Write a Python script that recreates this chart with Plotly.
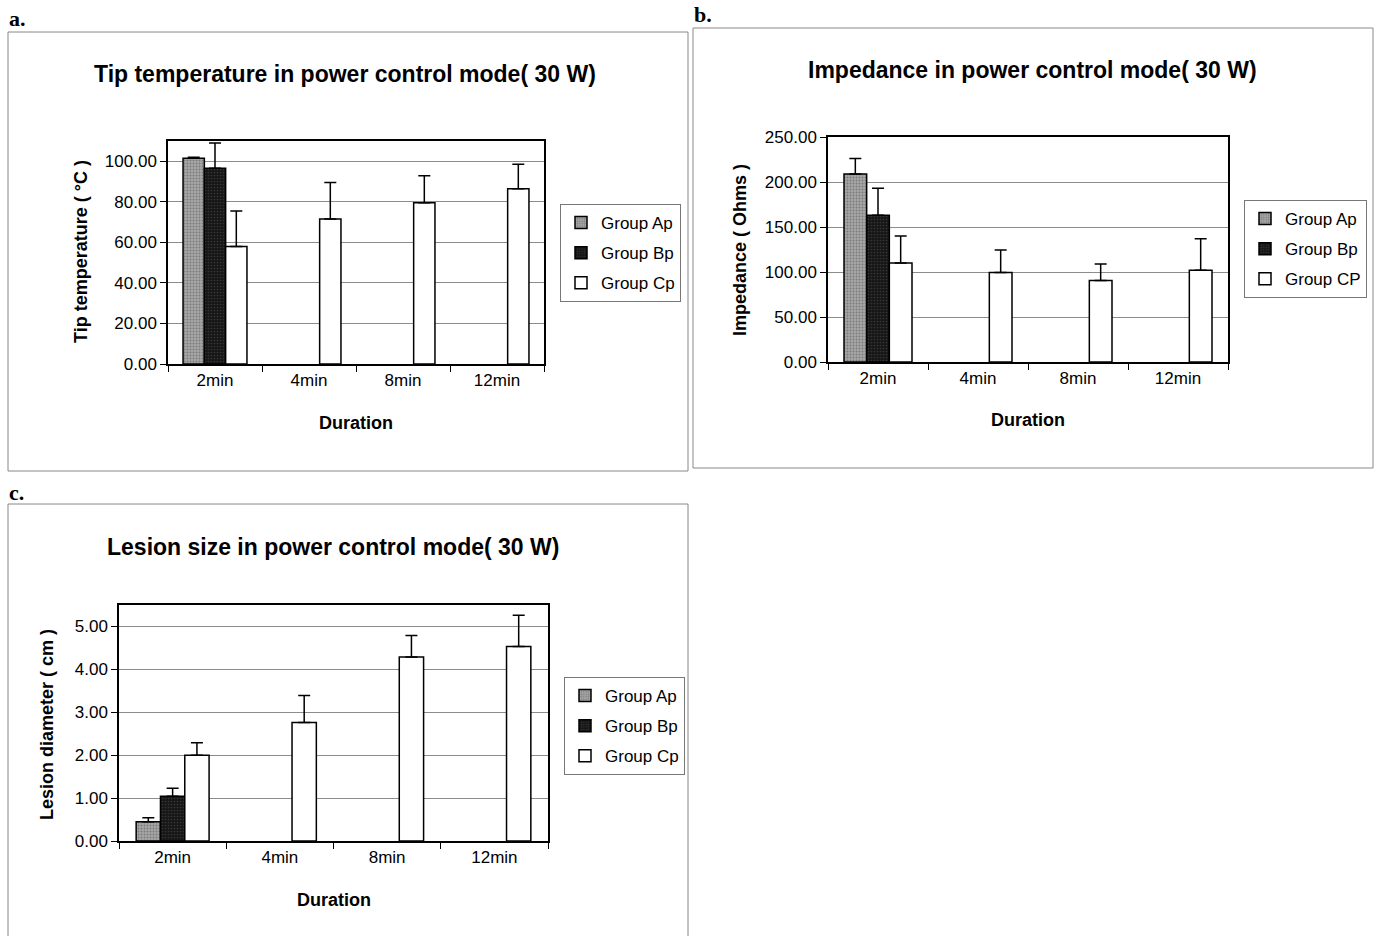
import plotly.graph_objects as go

categories = ["2min", "4min", "8min", "12min"]
groups_a = ["Group Ap", "Group Bp", "Group Cp"]
groups_b = ["Group Ap", "Group Bp", "Group CP"]

# Panel a: tip temperature (°C)
temp_ap = [101.5, None, None, None]
temp_ap_err = [0.5, 0, 0, 0]
temp_bp = [96.5, None, None, None]
temp_bp_err = [12.5, 0, 0, 0]
temp_cp = [58.0, 71.5, 79.5, 86.5]
temp_cp_err = [17.5, 18.0, 13.3, 12.0]

# Panel b: impedance (Ohms)
imp_ap = [209.0, None, None, None]
imp_ap_err = [17.0, 0, 0, 0]
imp_bp = [163.0, None, None, None]
imp_bp_err = [30.0, 0, 0, 0]
imp_cp = [110.0, 99.5, 90.5, 102.0]
imp_cp_err = [30.0, 25.0, 18.5, 35.0]

# Panel c: lesion diameter (cm)
les_ap = [0.45, None, None, None]
les_ap_err = [0.09, 0, 0, 0]
les_bp = [1.04, None, None, None]
les_bp_err = [0.19, 0, 0, 0]
les_cp = [2.00, 2.76, 4.29, 4.53]
les_cp_err = [0.29, 0.63, 0.50, 0.73]

W, H = 1375, 936
FONT = "Liberation Sans, Arial, sans-serif"

def px(x):
    return x / W

def py(y):
    return 1 - y / H

styles = [
    dict(color="#8e8e8e", pattern=dict(shape=".", fgcolor="#4a4a4a", bgcolor="#a8a8a8", size=3, solidity=0.35)),
    dict(color="#1c1c1c", pattern=dict(shape=".", fgcolor="#555555", bgcolor="#161616", size=3, solidity=0.25)),
    dict(color="#ffffff"),
]

fig = go.Figure()

panels = [
    dict(vals=[temp_ap, temp_bp, temp_cp], errs=[temp_ap_err, temp_bp_err, temp_cp_err], names=groups_a,
         xa="x", ya="y", leg="legend"),
    dict(vals=[imp_ap, imp_bp, imp_cp], errs=[imp_ap_err, imp_bp_err, imp_cp_err], names=groups_b,
         xa="x2", ya="y2", leg="legend2"),
    dict(vals=[les_ap, les_bp, les_cp], errs=[les_ap_err, les_bp_err, les_cp_err], names=groups_a,
         xa="x3", ya="y3", leg="legend3"),
]

for k, p in enumerate(panels):
    for i in range(3):
        st = styles[i]
        marker = dict(color=st["color"], line=dict(color="black", width=1.5))
        if "pattern" in st:
            marker["pattern"] = st["pattern"]
        fig.add_trace(go.Bar(
            x=categories, y=p["vals"][i], name=p["names"][i],
            xaxis=p["xa"], yaxis=p["ya"], legend=p["leg"], legendgroup="g%d_%d" % (k, i),
            marker=marker,
            error_y=dict(type="data", symmetric=False, array=p["errs"][i],
                         arrayminus=[0, 0, 0, 0], color="black", thickness=1.5, width=6),
        ))

axis_common_x = dict(type="category", showline=True, linecolor="black", linewidth=1.5, mirror=True,
                     ticks="outside", tickson="boundaries", ticklen=6, tickcolor="black", automargin=False,
                     tickfont=dict(family=FONT, size=17, color="black"), showgrid=False, zeroline=False)
axis_common_y = dict(showline=True, linecolor="black", linewidth=1.5, mirror=True, automargin=False,
                     ticks="outside", ticklen=6, tickcolor="black", tickformat=".2f",
                     tickfont=dict(family=FONT, size=17, color="black"),
                     showgrid=True, gridcolor="#8c8c8c", gridwidth=1, zeroline=False)

fig.update_layout(
    width=W, height=H, margin=dict(l=0, r=0, t=0, b=0, pad=0, autoexpand=False),
    paper_bgcolor="white", plot_bgcolor="white",
    barmode="group", bargap=0.32, bargroupgap=0,
    showlegend=True,
    xaxis=dict(axis_common_x, domain=[px(168), px(544)], anchor="y"),
    yaxis=dict(axis_common_y, domain=[py(364), py(141)], anchor="x", range=[0, 110], dtick=20),
    xaxis2=dict(axis_common_x, domain=[px(828), px(1228)], anchor="y2"),
    yaxis2=dict(axis_common_y, domain=[py(362), py(137)], anchor="x2", range=[0, 250], dtick=50),
    xaxis3=dict(axis_common_x, domain=[px(119), px(548)], anchor="y3"),
    yaxis3=dict(axis_common_y, domain=[py(841), py(605)], anchor="x3", range=[0, 5.5], dtick=1),
)

leg_common = dict(bgcolor="white", bordercolor="#777777", borderwidth=1,
                  font=dict(family=FONT, size=17, color="black"),
                  xanchor="left", yanchor="top", itemwidth=30, tracegroupgap=5,
                  itemclick=False, itemdoubleclick=False)
fig.update_layout(
    legend=dict(leg_common, x=px(560), y=py(204)),
    legend2=dict(leg_common, x=px(1244), y=py(200)),
    legend3=dict(leg_common, x=px(564), y=py(677)),
)

ann = []
def text(x, y, s, size, bold=True, angle=0, family=FONT, xanchor="center"):
    ann.append(dict(x=px(x), y=py(y), xref="paper", yref="paper", text=("<b>%s</b>" % s) if bold else s,
                    showarrow=False, textangle=angle, xanchor=xanchor, yanchor="middle",
                    font=dict(family=family, size=size, color="black")))

# panel letters
SERIF = "Liberation Serif, Times New Roman, serif"
text(7, 18, "a.", 22, family=SERIF, xanchor="left")
text(692, 15, "b.", 22, family=SERIF, xanchor="left")
text(7, 492, "c.", 22, family=SERIF, xanchor="left")

# titles
text(345, 74, "Tip temperature in power control mode( 30 W)", 23)
text(1032, 70, "Impedance in power control mode( 30 W)", 23)
text(333, 547, "Lesion size in power control mode( 30 W)", 23)

# axis titles
text(81, 252, "Tip temperature ( °C )", 18, angle=-90)
text(356, 423, "Duration", 18)
text(740, 250, "Impedance ( Ohms )", 18, angle=-90)
text(1028, 420, "Duration", 18)
text(47, 725, "Lesion diameter ( cm )", 18, angle=-90)
text(334, 900, "Duration", 18)

fig.update_layout(annotations=ann)

# outer panel frames
shapes = []
for (x0, y0, x1, y1) in [(8, 32, 688, 471), (693, 28, 1373, 468), (8, 504, 688, 940)]:
    shapes.append(dict(type="rect", xref="paper", yref="paper", x0=px(x0), x1=px(x1), y0=py(y1), y1=py(y0),
                       line=dict(color="#888888", width=1)))
fig.update_layout(shapes=shapes)

post = (
    "var s=document.documentElement.style;s.margin='0';s.padding='0';s.overflow='hidden';"
    "var b=document.body.style;b.margin='0';b.padding='0';b.overflow='hidden';"
)

fig.write_html("out.html", config={"displayModeBar": False}, post_script=post)
